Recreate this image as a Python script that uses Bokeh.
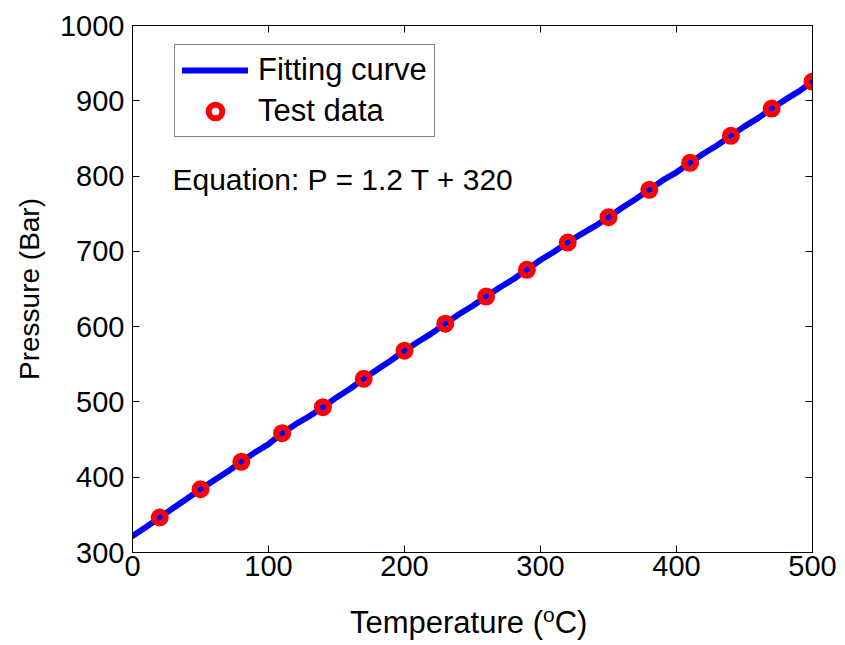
from bokeh.plotting import figure
from bokeh.models import Range1d, FixedTicker, LinearAxis, Legend, LegendItem, Label, Div
from bokeh.layouts import column
from bokeh.embed import file_html
from bokeh.resources import INLINE

# ---- data ----
T_fit = [0, 10, 20, 30, 40, 50, 60, 70, 80, 90, 100, 110, 120, 130, 140, 150, 160, 170, 180, 190,
         200, 210, 220, 230, 240, 250, 260, 270, 280, 290, 300, 310, 320, 330, 340, 350, 360, 370,
         380, 390, 400, 410, 420, 430, 440, 450, 460, 470, 480, 490, 500]
P_fit = [322, 334, 346.5, 359, 371.5, 384, 396, 407.5, 420.5, 433, 444, 458.5, 470.5, 481, 493,
         506, 517.5, 530.7, 543, 555, 568, 580, 591, 604, 616.5, 627.5, 640, 652, 663, 675.5,
         688.5, 699.5, 711.7, 723, 733.5, 745.4, 758, 769.5, 781.7, 794.5, 805, 817.6, 830, 841,
         853.4, 866, 877, 889.7, 901.5, 912.5, 925.6]
T_test = [20, 50, 80, 110, 140, 170, 200, 230, 260, 290, 320, 350, 380, 410, 440, 470, 500]
P_test = [346.5, 384, 420.5, 458.5, 493, 530.7, 568, 604, 640, 675.5, 711.7, 745.4, 781.7,
          817.6, 853.4, 889.7, 925.6]
x_ticks = [0, 100, 200, 300, 400, 500]
y_ticks = [300, 400, 500, 600, 700, 800, 900, 1000]

FONT = "Liberation Sans"

p = figure(width=845, height=600, output_backend="svg", toolbar_location=None,
           x_range=Range1d(0, 500), y_range=Range1d(300, 1000),
           min_border_left=132, min_border_right=33, min_border_top=25, min_border_bottom=48,
           x_axis_location=None, y_axis_location=None)
p.grid.visible = False
p.outline_line_color = "black"
p.outline_line_width = 1
p.background_fill_color = "white"
p.border_fill_color = "white"

def make_axis(ticks, show_labels, standoff):
    ax = LinearAxis(ticker=FixedTicker(ticks=ticks))
    ax.major_tick_in = 7
    ax.major_tick_out = 0
    ax.minor_tick_line_color = None
    ax.axis_line_color = "black"
    ax.major_tick_line_color = "black"
    ax.major_label_text_font = FONT
    ax.major_label_standoff = standoff
    if show_labels:
        ax.major_label_text_font_size = "29px"
        ax.major_label_text_color = "black"
    else:
        ax.major_label_text_font_size = "1px"
        ax.major_label_text_color = None
        ax.major_label_standoff = 0
    return ax

xb = make_axis(x_ticks, True, 3)
yl = make_axis(y_ticks, True, 8)
yl.axis_label = "Pressure (Bar)"
yl.axis_label_text_font = FONT
yl.axis_label_text_font_size = "28px"
yl.axis_label_text_font_style = "normal"
yl.axis_label_text_color = "black"
yl.axis_label_standoff = 12
p.add_layout(xb, "below")
p.add_layout(yl, "left")
p.add_layout(make_axis(x_ticks, False, 0), "above")
p.add_layout(make_axis(y_ticks, False, 0), "right")

line_r = p.line(T_fit, P_fit, line_color="#0000ff", line_width=6, line_join="round", line_cap="round")
pts_r = p.scatter(T_test, P_test, marker="circle", size=12, fill_color=None,
                  line_color="#ff0000", line_width=6)

legend = Legend(items=[LegendItem(label="Fitting curve", renderers=[line_r]),
                       LegendItem(label="Test data", renderers=[pts_r])],
                location=(42, 415))
legend.label_text_font = FONT
legend.label_text_font_size = "31px"
legend.label_text_color = "black"
legend.border_line_color = "black"
legend.border_line_width = 1
legend.background_fill_color = "white"
legend.background_fill_alpha = 1
legend.padding = 7
legend.spacing = 5
legend.glyph_width = 66
legend.glyph_height = 34
legend.label_height = 34
legend.label_standoff = 10
legend.margin = 0
p.add_layout(legend, "center")

p.add_layout(Label(x=29.4, y=795, text="Equation: P = 1.2 T + 320", text_font=FONT,
                   text_font_size="30px", text_color="black", text_baseline="alphabetic"))

xlabel = Div(text=('<div style="padding-left:345px; font-family:\'Liberation Sans\'; '
                   'font-size:31px; line-height:36px; color:black; white-space:nowrap;">'
                   'Temperature (<sup style="font-size:21px; vertical-align:11px; line-height:0;">o</sup>C)'
                   '</div>'),
             width=845, height=45)

layout = column(p, xlabel, spacing=0)
open("out.html", "w").write(file_html(layout, INLINE))
